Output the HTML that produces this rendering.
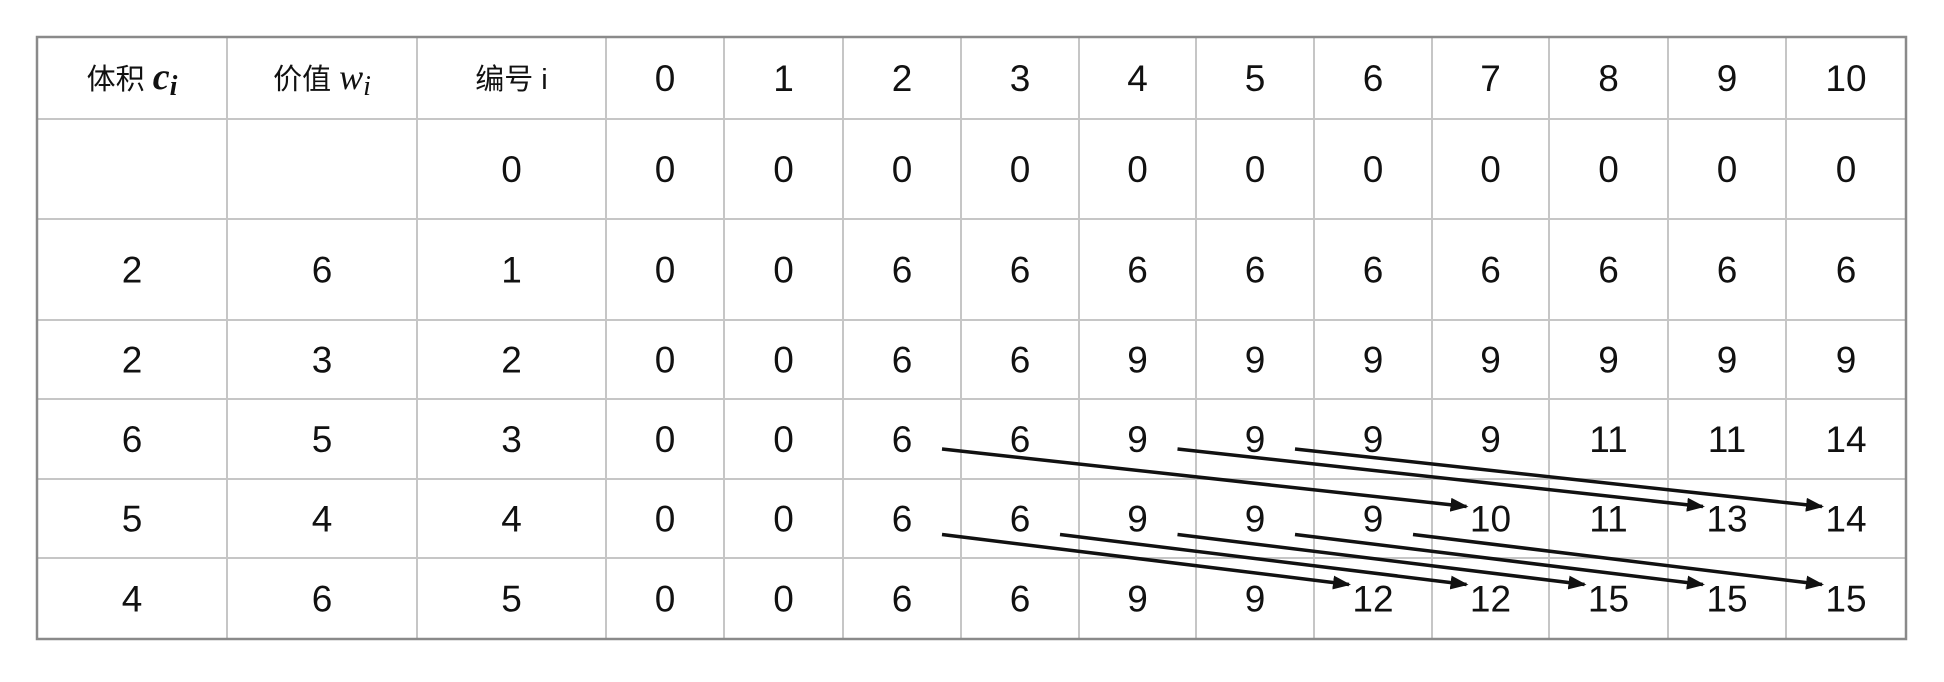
<!DOCTYPE html>
<html><head><meta charset="utf-8">
<style>
html,body{margin:0;padding:0;background:#fff;width:1944px;height:682px;overflow:hidden}
svg{display:block}
text{font-family:"Liberation Sans","Noto Sans CJK SC",sans-serif;fill:#111}
.m{font-family:"Liberation Serif","DejaVu Serif",serif;font-style:italic}
</style></head>
<body>
<svg id="chart" width="1944" height="682" viewBox="0 0 1944 682">
<defs><marker id="ah" markerWidth="18" markerHeight="14" refX="16" refY="7" orient="auto" markerUnits="userSpaceOnUse"><path d="M0,0 L18,7 L0,14 z" fill="#111"/></marker></defs>
<g id="grid"></g><g id="cells"></g><g id="arrows"></g>
</svg>
<script>
const colEdges=[37,227,417,606,724,843,961,1079,1196,1314,1432,1549,1668,1786,1906];
const rowEdges=[37,119,219,320,399,479,558,639];
const capacities=["0","1","2","3","4","5","6","7","8","9","10"];
const volumes=["","2","2","6","5","4"];
const values=["","6","3","5","4","6"];
const itemIds=["0","1","2","3","4","5"];
const dpRows=[
[0,0,0,0,0,0,0,0,0,0,0],
[0,0,6,6,6,6,6,6,6,6,6],
[0,0,6,6,9,9,9,9,9,9,9],
[0,0,6,6,9,9,9,9,11,11,14],
[0,0,6,6,9,9,9,10,11,13,14],
[0,0,6,6,9,9,12,12,15,15,15]];
// arrows: [fromItemRow, fromCap, toCap]
const arrowFromRow=[3,3,3,4,4,4,4,4];
const arrowFromCap=[2,4,5,2,3,4,5,6];
const arrowToCap=[7,9,10,6,7,8,9,10];
const NS="http://www.w3.org/2000/svg";
const grid=document.getElementById('grid'),cells=document.getElementById('cells'),arrows=document.getElementById('arrows');
function mk(t,a,p){const e=document.createElementNS(NS,t);for(const k in a)e.setAttribute(k,a[k]);p.appendChild(e);return e;}
const cx=c=>(colEdges[c]+colEdges[c+1])/2, cy=r=>(rowEdges[r]+rowEdges[r+1])/2;
for(let i=1;i<colEdges.length-1;i++){const l=mk('line',{x1:colEdges[i],x2:colEdges[i],y1:rowEdges[0],y2:rowEdges[7],stroke:'#c6c6c6','stroke-width':2},grid);

}
for(let i=1;i<rowEdges.length-1;i++){const l=mk('line',{x1:colEdges[0],x2:colEdges[14],y1:rowEdges[i],y2:rowEdges[i],stroke:'#c6c6c6','stroke-width':2},grid);

}
const b=mk('rect',{x:colEdges[0],y:rowEdges[0],width:colEdges[14]-colEdges[0],height:rowEdges[7]-rowEdges[0],fill:'none',stroke:'#8a8a8a','stroke-width':2.5},grid);


function txt(s,c,r,name){const t=mk('text',{x:cx(c),y:cy(r)+13,'text-anchor':'middle','font-size':37},cells);t.textContent=s;

return t;}
let h=mk('text',{x:cx(0),y:cy(0)+11,'text-anchor':'middle','font-size':29},cells);
h.innerHTML='体积 <tspan class="m" font-size="38" font-weight="bold">c</tspan><tspan class="m" font-size="28" dy="6" font-weight="bold">i</tspan>';


h=mk('text',{x:cx(1),y:cy(0)+11,'text-anchor':'middle','font-size':29},cells);
h.innerHTML='价值 <tspan class="m" font-size="36">w</tspan><tspan class="m" font-size="28" dy="6">i</tspan>';


h=mk('text',{x:cx(2),y:cy(0)+11,'text-anchor':'middle','font-size':29},cells);
h.textContent='编号 i';


capacities.forEach((s,i)=>txt(s,3+i,0,'header-capacity-'+s));
for(let r=0;r<6;r++){
 if(volumes[r])txt(volumes[r],0,r+1,'volume-cell');
 if(values[r])txt(values[r],1,r+1,'value-cell');
 txt(itemIds[r],2,r+1,'item-id-cell');
 dpRows[r].forEach((v,j)=>txt(String(v),3+j,r+1,'dp-cell-'+r+'-'+j));
}
arrowFromRow.forEach((fr,k)=>{
 const x1=cx(3+arrowFromCap[k])+40, y1=cy(fr+1)+(fr===3?10:16);
 const x2=cx(3+arrowToCap[k])-24, y2=cy(fr+2)-(fr===3?12:14);
 const l=mk('line',{x1:x1,y1:y1,x2:x2,y2:y2,stroke:'#111','stroke-width':3.5,'marker-end':'url(#ah)'},arrows);
 
 
});
</script>
</body></html>
